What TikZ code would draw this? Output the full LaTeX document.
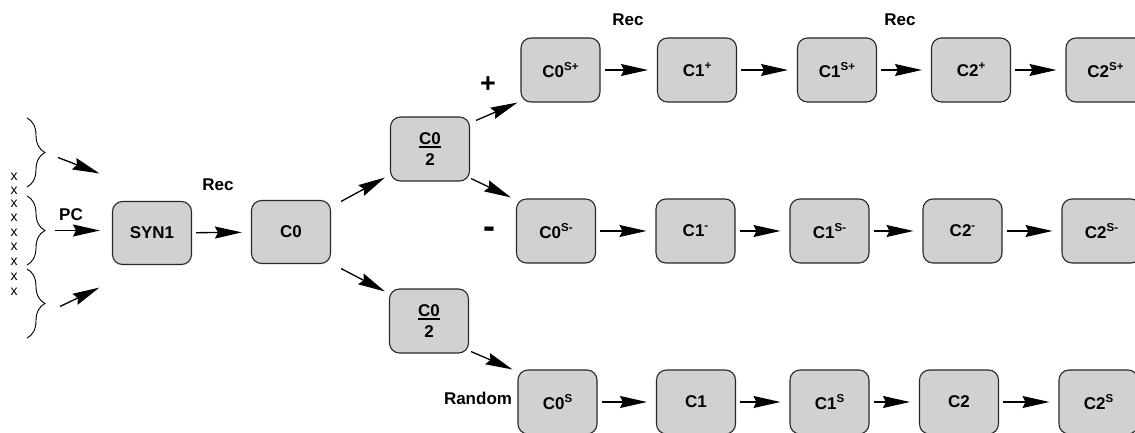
\documentclass[tikz,border=0pt]{standalone}
\usepackage{fontspec}
\setmainfont{Liberation Sans}
\usetikzlibrary{arrows.meta,decorations.pathreplacing,calc}
\definecolor{boxgray}{RGB}{208,209,209}
\definecolor{boxline}{RGB}{40,40,40}
\newcommand\sps[1]{\raisebox{7pt}{\fontsize{11.5}{11.5}\selectfont #1}}
\newcommand\ulin[1]{\leavevmode\vtop{\hbox{#1}\kern1.8pt\hrule height 1.6pt}}
\begin{document}
\begin{tikzpicture}[x=1pt,y=-1pt,
  font=\fontsize{17}{20}\selectfont\bfseries,
  box/.style={draw=boxline, fill=boxgray, rounded corners=10pt, minimum width=79pt,
    minimum height=63pt, inner sep=0pt, line width=1.1pt, align=center},
  arr/.style={-{Stealth[length=27pt,width=12pt,inset=3pt]}, line width=1.3pt},
  harr/.style={arr, shorten <=4pt, shorten >=9pt},
  brc/.style={decorate, decoration={brace, amplitude=18pt}, line width=0.9pt},
  lab/.style={inner sep=0pt},
  xm/.style={inner sep=0pt, font=\fontsize{14}{14}\selectfont}]
\useasboundingbox (0,0) rectangle (1135,433);
\clip (0,0) rectangle (1135,433);
% x marks
\foreach \yy [count=\i] in {177,191,204,218,233,247,262,277,292}
  \node[xm] (x\i) at (14,\yy) {x};
% braces
\draw[brc] (27,118) -- (27,187);
\draw[brc] (27,196) -- (27,265);
\draw[brc] (27,269) -- (27,338);
\coordinate (b1) at (45,152.5);
\coordinate (b2) at (45,230.5);
\coordinate (b3) at (45,303.5);
% main nodes
\node[box] (SYN1) at (152,233) {SYN1};
\node[box] (C0) at (291,232) {C0};
\node[box, minimum height=64pt] (C02a) at (430,149) {\ulin{C0}\\[1pt]2};
\node[box, minimum height=64pt] (C02b) at (429,321) {\ulin{C0}\\[1pt]2};
% top row
\node[box, minimum height=64pt] (C0Sp) at (560.5,70) {C0\sps{S+}};
\node[box, minimum height=64pt] (C1p) at (697,70) {C1\sps{+}};
\node[box, minimum height=64pt] (C1Sp) at (837,70) {C1\sps{S+}};
\node[box, minimum height=64pt] (C2p) at (971,70) {C2\sps{+}};
\node[box, minimum height=64pt] (C2Sp) at (1105.5,70) {C2\sps{S+}};
% middle row
\node[box, minimum height=64pt] (C0Sm) at (556,231) {C0\sps{S-}};
\node[box, minimum height=64pt] (C1m) at (695.5,231) {C1\sps{-}};
\node[box, minimum height=64pt] (C1Sm) at (829.5,231) {C1\sps{S-}};
\node[box, minimum height=64pt] (C2m) at (962.5,231) {C2\sps{-}};
\node[box, minimum height=64pt] (C2Sm) at (1101.5,231) {C2\sps{S-}};
% bottom row
\node[box, minimum height=64pt] (C0S) at (557.5,402) {C0\sps{S}};
\node[box, minimum height=64pt] (C1) at (696,402) {C1};
\node[box, minimum height=64pt] (C1S) at (829.5,402) {C1\sps{S}};
\node[box, minimum height=64pt] (C2) at (959,402) {C2};
\node[box, minimum height=64pt] (C2S) at (1098.5,402) {C2\sps{S}};
% labels
\node[lab] (pc) at (71,215) {PC};
\node[lab] (rec0) at (218,185) {Rec};
\node[lab] (rec1) at (628,20) {Rec};
\node[lab] (rec2) at (900,20) {Rec};
\node[lab, font=\fontsize{27}{27}\selectfont\bfseries] (plus) at (488,85) {+};
\node[lab, font=\fontsize{36}{36}\selectfont\bfseries] (minus) at (489.5,233) {-};
\node[lab] (rnd) at (478,398) {Random};
% brace arrows
\draw[arr] ($(b1)+(13,5)$) -- ($(SYN1.north west)+(-12.5,-27.5)$);
\draw[arr] ($(b2)+(10,0)$) -- ($(SYN1.west)+(-12,-2.5)$);
\draw[arr] ($(b3)+(15,3)$) -- ($(SYN1.south west)+(-12.5,22.5)$);
% main flow
\draw[harr] (SYN1) -- (C0);
\draw[arr] ($(C0.north east)+(10,1.5)$) -- ($(C02a.south west)+(-5,-4)$);
\draw[arr] ($(C0.south east)+(10,4.5)$) -- ($(C02b.north west)+(-4,3)$);
\draw[arr] ($(C02a.north east)+(6,4)$) -- ($(C0Sp.south west)+(-3,0)$);
\draw[arr] ($(C02a.south east)+(1,-3)$) -- ($(C0Sm.north west)+(-5,-1)$);
\draw[arr] ($(C02b.south east)+(2,-2)$) -- ($(C0S.north west)+(-5,0)$);
% rows
\draw[harr] (C0Sp) -- (C1p);
\draw[harr] (C1p) -- (C1Sp);
\draw[harr] (C1Sp) -- (C2p);
\draw[harr] (C2p) -- (C2Sp);
\draw[harr] (C0Sm) -- (C1m);
\draw[harr] (C1m) -- (C1Sm);
\draw[harr] (C1Sm) -- (C2m);
\draw[harr] (C2m) -- (C2Sm);
\draw[harr] (C0S) -- (C1);
\draw[harr] (C1) -- (C1S);
\draw[harr] (C1S) -- (C2);
\draw[harr] (C2) -- (C2S);
\end{tikzpicture}
\end{document}
